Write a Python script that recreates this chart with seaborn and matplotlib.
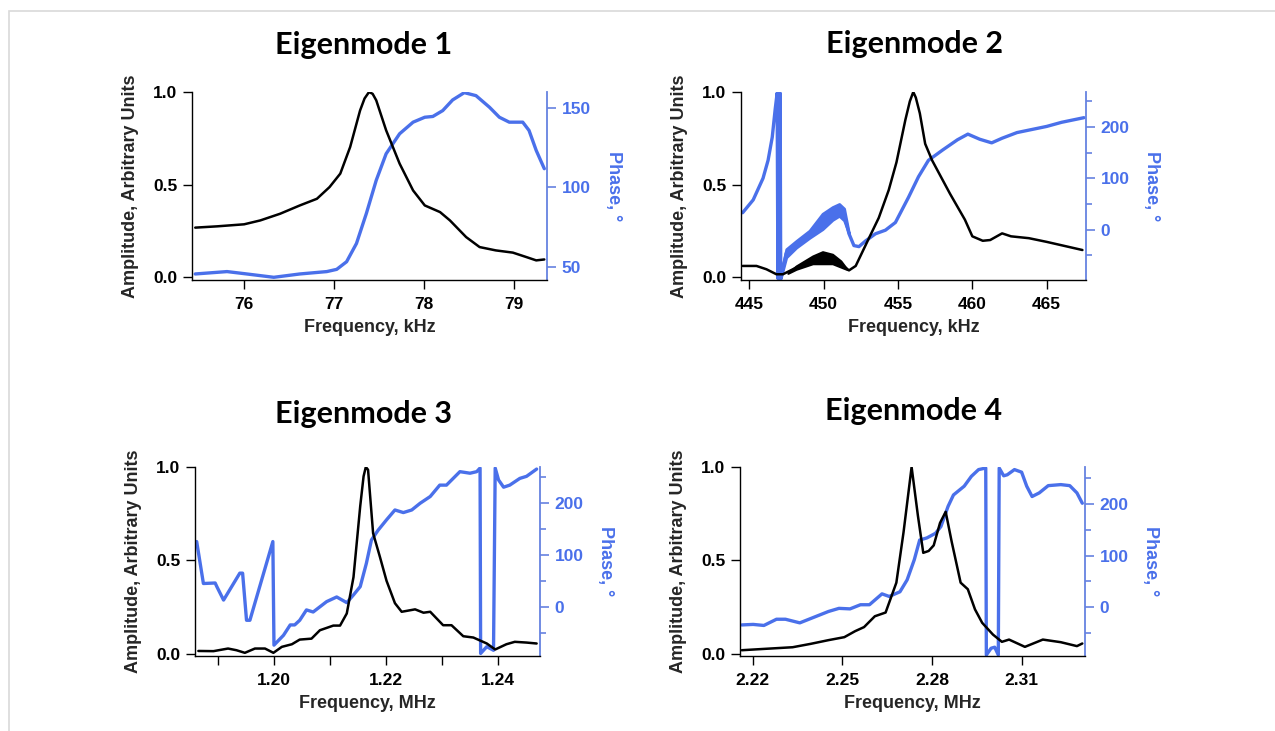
import matplotlib
matplotlib.use("Agg")
import matplotlib.pyplot as plt
import matplotlib.patches as patches
from matplotlib.ticker import FormatStrFormatter
import seaborn as sns

sns.set_style("ticks")
plt.rcParams['font.family'] = ['Liberation Sans', 'DejaVu Sans']
plt.rcParams['font.weight'] = 'bold'

BLUE = '#4a70ea'
SPINE_BLUE = '#6682e0'

# --- Eigenmode 1 (kHz) ---
freq1_amp = [75.456, 75.70, 76.0, 76.18, 76.40, 76.62, 76.81, 76.95, 77.07, 77.18, 77.29, 77.34,
             77.39, 77.43, 77.47, 77.58, 77.73, 77.88, 78.01, 78.18, 78.29, 78.47, 78.62, 78.80,
             78.99, 79.14, 79.25, 79.34]
amp1 = [0.267, 0.274, 0.285, 0.306, 0.342, 0.387, 0.423, 0.486, 0.559, 0.703, 0.90, 0.965,
        1.0, 0.99, 0.955, 0.793, 0.613, 0.468, 0.387, 0.351, 0.306, 0.216, 0.162, 0.144,
        0.132, 0.108, 0.09, 0.095]
freq1_ph = [75.456, 75.81, 76.03, 76.33, 76.62, 76.92, 77.03, 77.14, 77.25, 77.36, 77.47, 77.58,
            77.73, 77.88, 78.01, 78.10, 78.21, 78.32, 78.45, 78.58, 78.73, 78.84, 78.95, 79.10,
            79.17, 79.25, 79.34]
phase1 = [45.4, 46.9, 45.4, 43.3, 45.4, 46.9, 48.3, 53.1, 64.6, 83.5, 104.4, 121.1,
          133.7, 141.0, 144.1, 144.6, 148.3, 155.0, 159.6, 157.7, 150.4, 144.1, 141.0, 141.0,
          135.8, 123.2, 111.7]

# --- Eigenmode 2 (kHz) ---
freq2_amp = [444.56, 445.49, 446.16, 446.83, 447.27, 448.16, 449.27, 449.93, 450.6, 451.16,
             451.71, 452.16, 453.05, 453.71, 454.38, 454.9, 455.5, 455.8, 456.03, 456.2, 456.47,
             456.83, 457.3, 458.5, 459.5, 460.0, 460.7, 461.2, 462.0, 462.6, 463.8, 465.0,
             466.2, 467.4]
amp2 = [0.06, 0.06, 0.042, 0.015, 0.015, 0.051, 0.093, 0.10, 0.097, 0.07,
        0.036, 0.06, 0.21, 0.32, 0.47, 0.62, 0.85, 0.95, 1.0, 0.97, 0.885,
        0.72, 0.63, 0.45, 0.31, 0.22, 0.196, 0.20, 0.236, 0.22, 0.21, 0.19,
        0.168, 0.146]
freq2_amp_band = [447.6, 448.16, 449.27, 449.93, 450.6, 451.16, 451.6]
amp2_band_lo = [0.02, 0.042, 0.072, 0.072, 0.072, 0.054, 0.04]
amp2_band_hi = [0.02, 0.06, 0.114, 0.137, 0.123, 0.087, 0.04]

freq2_ph = [444.56, 445.27, 445.93, 446.27, 446.55, 446.75, 446.88, 446.93, 446.98, 447.03,
            447.08, 447.12, 447.49, 448.16, 449.05, 449.93, 450.6, 451.05, 451.38, 451.71,
            452.04, 452.38, 452.82, 453.49, 454.16, 454.83, 455.71, 456.38, 457.05, 458.0,
            459.0, 459.7, 460.5, 461.3, 462.0, 463.0, 464.0, 465.0, 466.0, 467.5]
phase2 = [33, 58, 100, 135, 180, 235, 266, -95, 266, -95,
          266, -95, -46, -28, -9, 16, 31, 38, 30, -8,
          -31, -33, -22, -8, -1, 14, 63, 103, 135, 155,
          175, 186, 176, 169, 178, 189, 195, 201, 209, 218]
freq2_ph_band = [447.12, 447.49, 448.16, 449.05, 449.93, 450.6, 451.05, 451.38, 451.71]
phase2_band_lo = [-95, -54, -35, -16, 1, 19, 27, 18, -8]
phase2_band_hi = [-90, -38, -22, -2, 31, 44, 50, 41, -8]

# --- Eigenmode 3 (MHz) ---
freq3_amp = [1.1865, 1.1892, 1.1918, 1.1933, 1.1948, 1.1966, 1.1984, 1.1999, 1.2014, 1.2032,
             1.2046, 1.2067, 1.2082, 1.2106, 1.2118, 1.2130, 1.2142, 1.2154, 1.2160, 1.2164,
             1.2168, 1.2177, 1.2189, 1.2201, 1.2216, 1.2228, 1.2252, 1.2267, 1.2279, 1.2302,
             1.2317, 1.2338, 1.2356, 1.2380, 1.2395, 1.2415, 1.2430, 1.2451, 1.2469]
amp3 = [0.014, 0.013, 0.027, 0.018, 0.004, 0.027, 0.027, 0.004, 0.036, 0.05,
        0.075, 0.08, 0.125, 0.15, 0.15, 0.215, 0.41, 0.79, 0.95, 1.0,
        0.985, 0.645, 0.52, 0.39, 0.27, 0.224, 0.237, 0.219, 0.224, 0.152,
        0.152, 0.093, 0.086, 0.054, 0.022, 0.05, 0.063, 0.059, 0.054]
freq3_ph = [1.1862, 1.1874, 1.1895, 1.1898, 1.1910, 1.1939, 1.1944, 1.1951, 1.1957, 1.1998,
            1.2000, 1.2017, 1.2029, 1.2037, 1.2046, 1.2058, 1.2070, 1.2082, 1.2094, 1.2112,
            1.2130, 1.2142, 1.2154, 1.2165, 1.2174, 1.2186, 1.2201, 1.2216, 1.2231, 1.2246,
            1.2261, 1.2279, 1.2296, 1.2308, 1.2320, 1.2332, 1.2350, 1.2362, 1.2368, 1.2369,
            1.2380, 1.2392, 1.2395, 1.2401, 1.2410, 1.2421, 1.2439, 1.2451, 1.2469]
phase3 = [126, 45, 46, 39, 13, 65, 65, -26, -26, 126,
          -74, -55, -35, -35, -26, -6, -10, 0, 10, 19,
          8, 23, 39, 84, 129, 148, 168, 187, 182, 187,
          200, 213, 235, 235, 248, 261, 258, 261, 268, -90,
          -77, -84, 268, 245, 231, 235, 248, 252, 266]

# --- Eigenmode 4 (MHz) ---
freq4_amp = [2.2164, 2.2238, 2.2334, 2.2394, 2.2454, 2.2507, 2.2543, 2.2573, 2.2609, 2.2645,
             2.2681, 2.2705, 2.2732, 2.2753, 2.2771, 2.2789, 2.2806, 2.2827, 2.2846, 2.2866,
             2.2896, 2.2920, 2.2944, 2.2968, 2.3004, 2.3034, 2.3058, 2.3111, 2.3171, 2.3231,
             2.3285, 2.3303]
amp4 = [0.018, 0.025, 0.034, 0.052, 0.072, 0.088, 0.12, 0.142, 0.20, 0.22,
        0.38, 0.65, 1.0, 0.74, 0.54, 0.55, 0.58, 0.70, 0.76, 0.60,
        0.38, 0.345, 0.237, 0.165, 0.102, 0.063, 0.075, 0.036, 0.075, 0.061,
        0.04, 0.054]
freq4_ph = [2.2164, 2.2202, 2.2238, 2.2280, 2.2310, 2.2358, 2.2406, 2.2454, 2.2489, 2.2526,
            2.2561, 2.2591, 2.2633, 2.2657, 2.2693, 2.2717, 2.2741, 2.2759, 2.2783, 2.2812,
            2.2830, 2.2854, 2.2872, 2.2908, 2.2932, 2.2956, 2.2980, 2.2982, 2.2998, 2.3010,
            2.3022, 2.3025, 2.3040, 2.3052, 2.3076, 2.3100, 2.3117, 2.3135, 2.3159, 2.3189,
            2.3231, 2.3261, 2.3285, 2.3303]
phase4 = [-34, -33, -35, -23, -23, -30, -19, -8, -2, -3,
          5, 5, 26, 21, 30, 53, 92, 130, 134, 143,
          156, 195, 217, 234, 253, 266, 269, -92, -79, -77,
          -92, 269, 254, 256, 266, 261, 234, 214, 221, 235,
          237, 235, 221, 201]

titles = ['Eigenmode 1', 'Eigenmode 2', 'Eigenmode 3', 'Eigenmode 4']

W, H = 1275, 731
fig = plt.figure(figsize=(W / 100, H / 100), dpi=100)
fig.patch.set_facecolor('white')


def px_axes(left, right, top, bottom):
    return fig.add_axes([left / W, (H - bottom) / H, (right - left) / W, (bottom - top) / H])


def style_panel(ax, ax2, xlim, ylim, plim, xticks, pticks, pminor, xlabel, xfmt, xminor=None):
    ax.set_xlim(*xlim)
    ax.set_ylim(*ylim)
    ax2.set_ylim(*plim)
    ax.set_xticks(xticks)
    if xminor is not None:
        ax.set_xticks(xminor, minor=True)
    ax.xaxis.set_major_formatter(FormatStrFormatter(xfmt))
    ax.set_yticks([0, 0.5, 1.0])
    ax.yaxis.set_major_formatter(FormatStrFormatter('%.1f'))
    ax2.set_yticks(pticks)
    if pminor:
        ax2.set_yticks(pminor, minor=True)

    for s in ['top', 'right']:
        ax.spines[s].set_visible(False)
    for s in ['top', 'left', 'bottom']:
        ax2.spines[s].set_visible(False)
    for s in ['left', 'bottom']:
        ax.spines[s].set_linewidth(1.0)
        ax.spines[s].set_color('black')
    ax2.spines['right'].set_color(SPINE_BLUE)
    ax2.spines['right'].set_linewidth(1.3)

    ax.tick_params(axis='both', which='both', direction='out', length=6.5, width=1.0,
                   labelsize=12.5, pad=4, color='black', labelcolor='black')
    ax.tick_params(axis='x', which='both', pad=6)
    ax2.tick_params(axis='y', which='major', direction='out', length=6.5, width=1.2,
                    labelsize=12.5, pad=4, color=SPINE_BLUE, labelcolor=BLUE)
    ax2.tick_params(axis='y', which='minor', direction='out', length=4, width=1.2,
                    color=SPINE_BLUE)

    ax.set_xlabel(xlabel, fontsize=13, fontweight='bold', labelpad=5)
    ax.set_ylabel('Amplitude, Arbitrary Units', fontsize=13, fontweight='bold', labelpad=10)
    ax2.set_ylabel('Phase, °', fontsize=13, fontweight='bold', color=BLUE,
                   rotation=270, va='bottom', labelpad=10)
    ax.set_zorder(1)
    ax.patch.set_visible(False)


def draw_lines(ax, ax2, fa, amp, fp, ph):
    sns.lineplot(x=fa, y=amp, ax=ax, color='black', linewidth=1.8, sort=False, estimator=None)
    sns.lineplot(x=fp, y=ph, ax=ax2, color=BLUE, linewidth=2.4, sort=False, estimator=None)


# panel 1
ax1 = px_axes(192, 547, 92, 280)
ax1b = ax1.twinx()
draw_lines(ax1, ax1b, freq1_amp, amp1, freq1_ph, phase1)
style_panel(ax1, ax1b, (75.42, 79.37), (-0.016, 1.0), (41.6, 160),
            [76, 77, 78, 79], [50, 100, 150], None, 'Frequency, kHz', '%d')

# panel 2
ax2 = px_axes(741, 1086, 92, 280)
ax2b = ax2.twinx()
draw_lines(ax2, ax2b, freq2_amp, amp2, freq2_ph, phase2)
ax2.fill_between(freq2_amp_band, amp2_band_lo, amp2_band_hi, color='black', linewidth=1.5,
                 edgecolor='black')
ax2b.fill_between(freq2_ph_band, phase2_band_lo, phase2_band_hi, color=BLUE, linewidth=2.0,
                  edgecolor=BLUE)
style_panel(ax2, ax2b, (444.45, 467.64), (-0.016, 1.0), (-98, 268),
            [445, 450, 455, 460, 465], [0, 100, 200], [-50, 50, 150, 250],
            'Frequency, kHz', '%d')

# panel 3
ax3 = px_axes(195, 540, 467, 656)
ax3b = ax3.twinx()
draw_lines(ax3, ax3b, freq3_amp, amp3, freq3_ph, phase3)
style_panel(ax3, ax3b, (1.1859, 1.2475), (-0.013, 1.0), (-95, 270),
            [1.20, 1.22, 1.24], [0, 100, 200], [-50, 50, 150, 250],
            'Frequency, MHz', '%.2f', xminor=[1.19, 1.21, 1.23])

# panel 4
ax4 = px_axes(740, 1085, 467, 656)
ax4b = ax4.twinx()
draw_lines(ax4, ax4b, freq4_amp, amp4, freq4_ph, phase4)
style_panel(ax4, ax4b, (2.2158, 2.3312), (-0.013, 1.0), (-94, 271),
            [2.22, 2.25, 2.28, 2.31], [0, 100, 200], [-50, 50, 150, 250],
            'Frequency, MHz', '%.2f')

# titles
title_pos = [(364, 54), (914, 53), (364, 423), (914, 420)]
for t, (tx, ty) in zip(titles, title_pos):
    fig.text(tx / W, (H - ty) / H, t, ha='center', va='baseline', fontsize=22,
             fontweight='bold', color='black', family=['Lato', 'DejaVu Sans'])

# light slide frame
fig.add_artist(patches.Rectangle((9 / W, -0.1), 1.2, (H - 10.5) / H + 0.1,
                                 transform=fig.transFigure, fill=False,
                                 edgecolor='#d9d9d9', linewidth=1.2))

fig.savefig('out.png', dpi=100)
